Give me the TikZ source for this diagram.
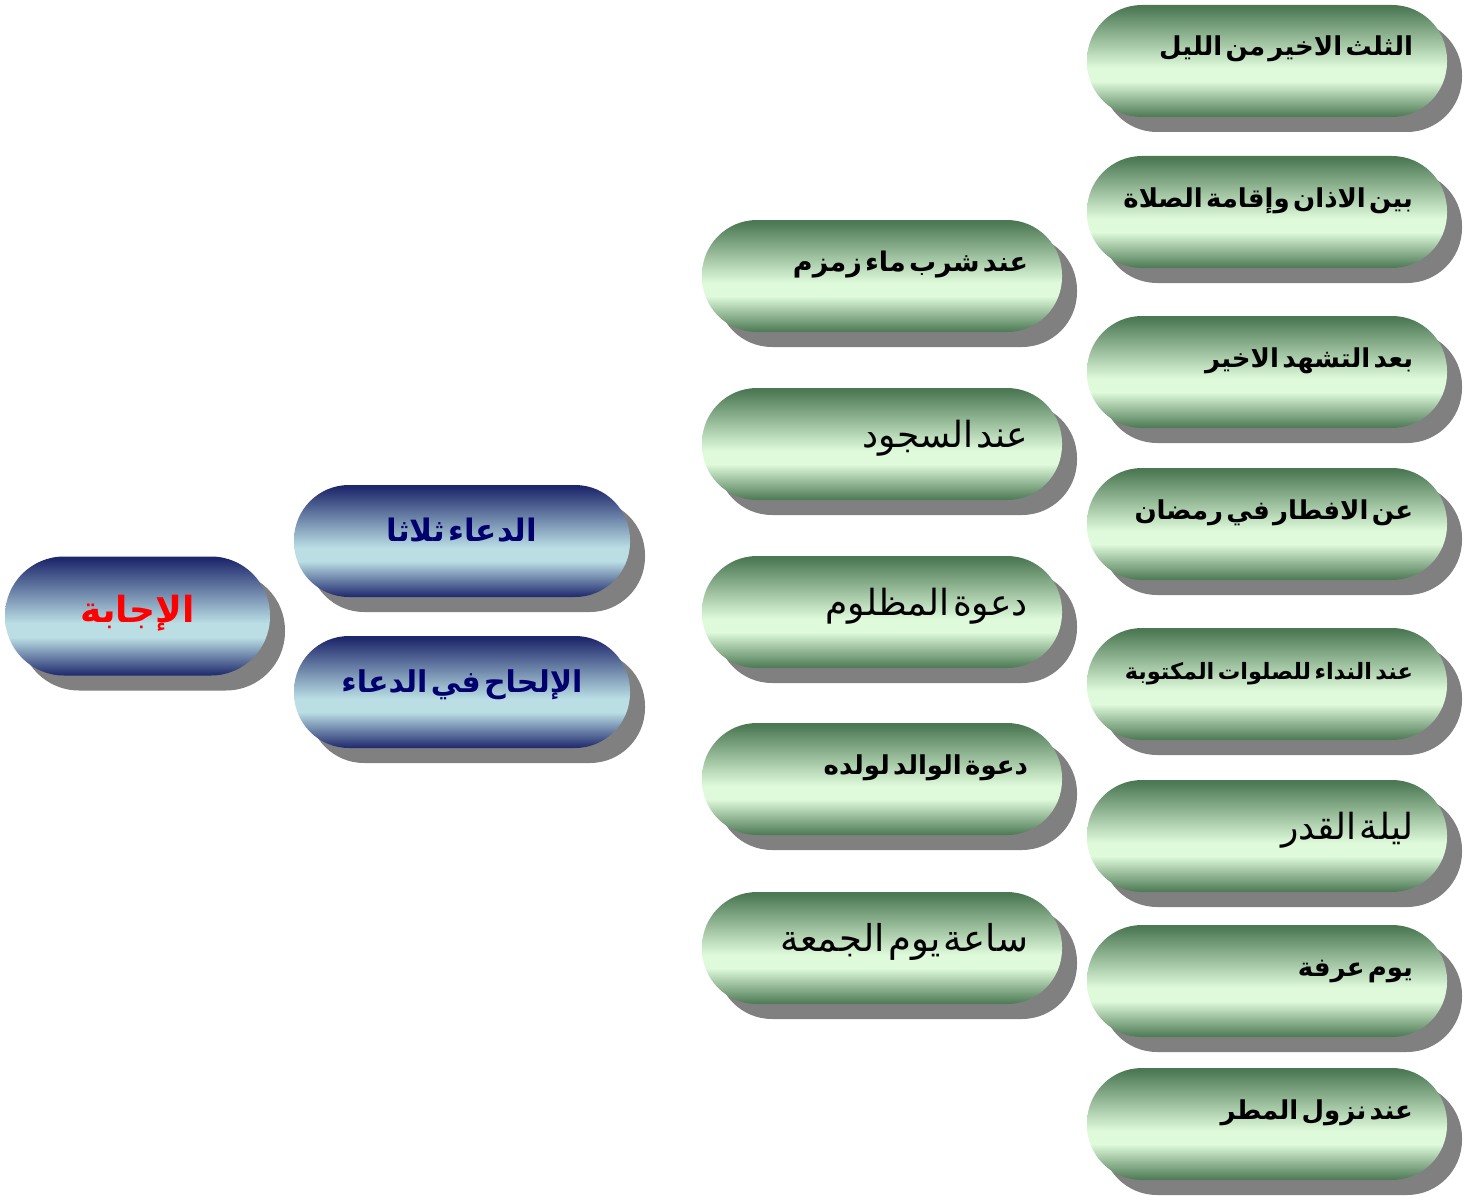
\documentclass[tikz,border=0pt]{standalone}
\usepackage{fontspec}
\usetikzlibrary{shadows}
\TeXXeTstate=1
\newfontfamily\arabicfont[Script=Arabic]{DejaVu Sans}
\definecolor{gdark}{RGB}{76,120,84}
\definecolor{glight}{RGB}{222,250,218}
\definecolor{bdark}{RGB}{30,40,108}
\definecolor{blight}{RGB}{186,222,228}
\definecolor{navytext}{RGB}{0,0,110}
\pgfdeclareverticalshading{greenpill}{100bp}{color(0bp)=(gdark); color(25bp)=(gdark); color(41bp)=(glight); color(47bp)=(glight); color(74bp)=(gdark); color(100bp)=(gdark)}
\pgfdeclareverticalshading{bluepill}{100bp}{color(0bp)=(bdark); color(25bp)=(bdark); color(41bp)=(blight); color(47bp)=(blight); color(74bp)=(bdark); color(100bp)=(bdark)}
\newcommand{\ar}[1]{\arabicfont\fontsize{#1}{#1}\selectfont}
\newcommand{\arb}[1]{\arabicfont\bfseries\fontsize{#1}{#1}\selectfont}
\begin{document}
\begin{tikzpicture}[x=1pt,y=-1pt,line join=round,
  pill/.style={rectangle,rounded corners=55pt,minimum height=112pt,inner xsep=0pt,inner ysep=0pt,
    text height=22pt,text depth=32pt,
    drop shadow={shadow xshift=15pt,shadow yshift=-15pt,fill=black!50,opacity=1}},
  greenbox/.style={pill,shade,shading=greenpill,minimum width=360pt,text width=292pt,align=right},
  bluebox/.style={pill,shade,shading=bluepill,minimum width=336pt,text width=320pt,align=center,text=navytext,
    text height=27pt,text depth=27pt},
  plain/.style={text height=30pt,text depth=24pt}]
  \def\rx{1267} \def\mx{882} % column centres
  \useasboundingbox (0,0) rectangle (1478,1196);
  % root
  \node[bluebox,minimum width=265pt,minimum height=119pt,rounded corners=59pt,text width=250pt,text=red,
    text height=34pt,text depth=22pt] (answer) at (137.5,616) {\arb{36}\beginR الإجابة\endR};
  % second level
  \node[bluebox] (thrice) at (462,541) {\arb{31}\beginR الدعاء ثلاثا\endR};
  \node[bluebox] (insist) at (462,692) {\arb{30}\beginR الإلحاح في الدعاء\endR};
  % middle column
  \node[greenbox] (zamzam)  at (\mx,276) {\arb{27}\beginR عند شرب ماء زمزم\endR};
  \node[greenbox,plain] (sujood)  at (\mx,444) {\ar{36}\beginR عند السجود\endR};
  \node[greenbox,plain] (mazloom) at (\mx,612) {\ar{36}\beginR دعوة المظلوم\endR};
  \node[greenbox] (walid)   at (\mx,779) {\arb{26}\beginR دعوة الوالد لولده\endR};
  \node[greenbox,plain] (jumuah)  at (\mx,948) {\ar{37}\beginR ساعة يوم الجمعة\endR};
  % right column
  \node[greenbox] (lastthird) at (\rx,61)   {\arb{26}\beginR الثلث الاخير من الليل\endR};
  \node[greenbox] (adhan)     at (\rx,212)  {\arb{26}\beginR بين الاذان وإقامة الصلاة\endR};
  \node[greenbox] (tashahhud) at (\rx,372)  {\arb{26}\beginR بعد التشهد الاخير\endR};
  \node[greenbox] (iftar)     at (\rx,524)  {\arb{26}\beginR عن الافطار في رمضان\endR};
  \node[greenbox] (nida)      at (\rx,684)  {\arb{22.5}\beginR عند النداء للصلوات المكتوبة\endR};
  \node[greenbox,plain] (qadr)      at (\rx,836)  {\ar{36}\beginR ليلة القدر\endR};
  \node[greenbox] (arafah)    at (\rx,981)  {\arb{26}\beginR يوم عرفة\endR};
  \node[greenbox] (rain)      at (\rx,1124) {\arb{26}\beginR عند نزول المطر\endR};
\end{tikzpicture}
\end{document}
